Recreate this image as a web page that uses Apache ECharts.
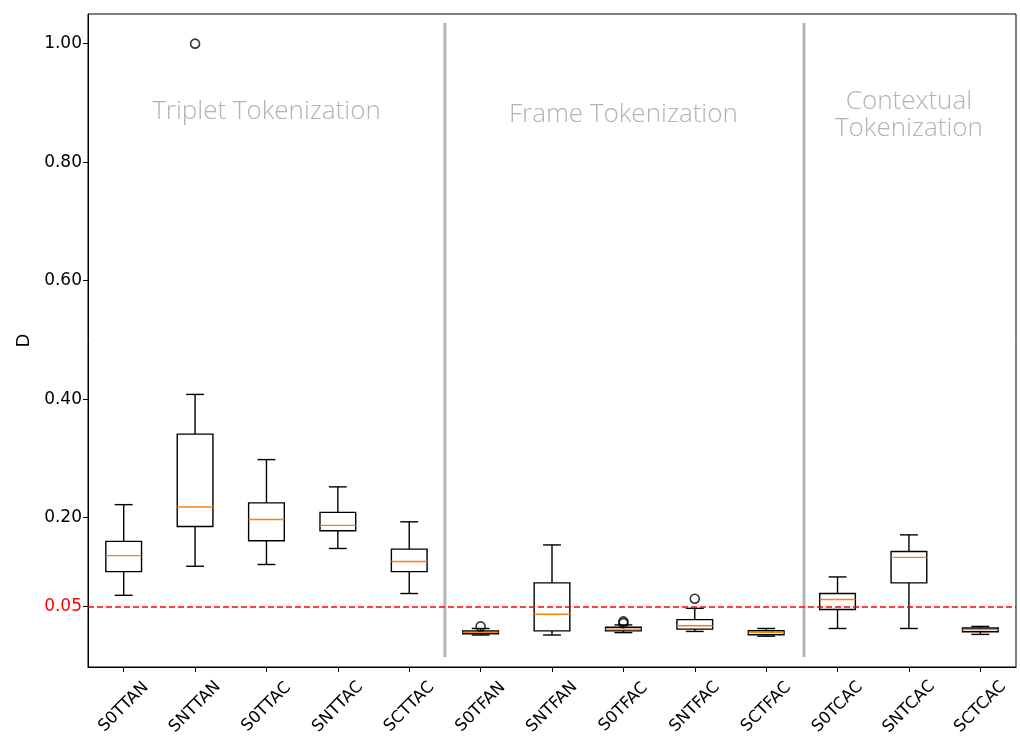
<!DOCTYPE html>
<html>
<head>
<meta charset="utf-8">
<script src="https://cdn.jsdelivr.net/npm/echarts@6/dist/echarts.min.js"></script>
<style>html,body{margin:0;padding:0;background:#fff}#c{width:1020px;height:736px}</style>
</head>
<body>
<div id="c"></div>
<script>
const categories = ['S0TTAN','SNTTAN','S0TTAC','SNTTAC','SCTTAC','S0TFAN','SNTFAN','S0TFAC','SNTFAC','SCTFAC','S0TCAC','SNTCAC','SCTCAC'];
const lowWhisker  = [0.069, 0.118, 0.121, 0.148, 0.072, 0.002, 0.002, 0.006, 0.008, 0.000, 0.013, 0.013, 0.003];
const q1          = [0.109, 0.185, 0.161, 0.178, 0.109, 0.004, 0.009, 0.009, 0.012, 0.0025, 0.045, 0.090, 0.0076];
const medians     = [0.136, 0.218, 0.197, 0.187, 0.126, 0.0064, 0.037, 0.012, 0.0177, 0.0064, 0.062, 0.133, 0.011];
const q3          = [0.160, 0.341, 0.225, 0.209, 0.147, 0.0088, 0.090, 0.015, 0.028, 0.0093, 0.072, 0.143, 0.0138];
const highWhisker = [0.222, 0.408, 0.298, 0.252, 0.193, 0.013, 0.154, 0.019, 0.047, 0.013, 0.100, 0.171, 0.0165];
const outliers = [[1, 1.0], [5, 0.0165], [7, 0.025], [7, 0.022], [8, 0.0633]];
const yTickValues = [0.05, 0.2, 0.4, 0.6, 0.8, 1.0];
const threshold = 0.05;
const groupLabels = [
  {cat: 2, y: 0.886, text: 'Triplet Tokenization'},
  {cat: 7, y: 0.881, text: 'Frame Tokenization'},
  {cat: 11, y: 0.880, text: 'Contextual\nTokenization'}
];
const separators = [4.5, 9.53];
const separatorRange = [-0.035, 1.035];

const boxData = categories.map((c, i) => [i, lowWhisker[i], q1[i], medians[i], q3[i], highWhisker[i]]);

const chart = echarts.init(document.getElementById('c'), null, {renderer: 'canvas'});
const lineW = 1.4;
chart.setOption({
  animation: false,
  grid: {left: 88, right: 4, top: 14, bottom: 69, containLabel: false, outerBoundsMode: 'none',
    show: true, borderColor: '#000', borderWidth: 1, backgroundColor: 'transparent'},
  xAxis: {
    type: 'category', data: categories, boundaryGap: true,
    axisLine: {show: true, onZero: false, lineStyle: {color: '#000', width: 1}},
    axisTick: {show: true, alignWithLabel: true, length: 5, lineStyle: {color: '#000'}},
    axisLabel: {rotate: 45, align: 'center', verticalAlign: 'middle', margin: 40, color: '#000', fontSize: 16.5, fontFamily: 'DejaVu Sans', interval: 0},
    splitLine: {show: false}
  },
  yAxis: {
    type: 'value', min: -0.052, max: 1.05,
    name: 'D', nameLocation: 'middle', nameGap: 52, nameRotate: 90,
    nameTextStyle: {color: '#000', fontSize: 18, fontFamily: 'DejaVu Sans'},
    axisLine: {show: true, lineStyle: {color: '#000', width: 1}},
    axisTick: {show: true, length: 5, customValues: yTickValues, lineStyle: {color: '#000'}},
    axisLabel: {customValues: yTickValues, margin: 6, fontSize: 17, fontFamily: 'DejaVu Sans',
      formatter: v => v.toFixed(2),
      color: (v) => (Math.abs(v - threshold) < 1e-9 ? '#ff0000' : '#000')},
    splitLine: {show: false}
  },
  series: [
    {
      type: 'custom', name: 'separators', silent: true, z: 1,
      data: separators.map(s => [s, separatorRange[0], separatorRange[1]]),
      renderItem: function(params, api) {
        const s = api.value(0);
        const i0 = Math.floor(s), f = s - i0;
        const a = api.coord([i0, api.value(1)]);
        const b = api.coord([i0 + 1, api.value(1)]);
        const top = api.coord([i0, api.value(2)]);
        const x = a[0] + f * (b[0] - a[0]);
        return {type: 'line', shape: {x1: x, y1: a[1], x2: x, y2: top[1]},
          style: {stroke: '#b3b3b3', lineWidth: 3}};
      }
    },
    {
      type: 'custom', name: 'boxes', z: 3,
      data: boxData,
      renderItem: function(params, api) {
        const idx = api.value(0);
        const pLow = api.coord([idx, api.value(1)]);
        const pQ1 = api.coord([idx, api.value(2)]);
        const pMed = api.coord([idx, api.value(3)]);
        const pQ3 = api.coord([idx, api.value(4)]);
        const pHigh = api.coord([idx, api.value(5)]);
        const band = api.size([1, 0])[0];
        const bw = band * 0.5, cw = band * 0.25;
        const x = pMed[0];
        const st = {stroke: '#000', lineWidth: lineW, fill: null};
        return {type: 'group', children: [
          {type: 'line', shape: {x1: x, y1: pQ3[1], x2: x, y2: pHigh[1]}, style: st},
          {type: 'line', shape: {x1: x, y1: pQ1[1], x2: x, y2: pLow[1]}, style: st},
          {type: 'line', shape: {x1: x - cw/2, y1: pHigh[1], x2: x + cw/2, y2: pHigh[1]}, style: st},
          {type: 'line', shape: {x1: x - cw/2, y1: pLow[1], x2: x + cw/2, y2: pLow[1]}, style: st},
          {type: 'rect', shape: {x: x - bw/2, y: pQ3[1], width: bw, height: pQ1[1] - pQ3[1]}, style: {stroke: '#000', lineWidth: lineW, fill: 'none'}},
          {type: 'line', shape: {x1: x - bw/2, y1: pMed[1], x2: x + bw/2, y2: pMed[1]}, style: {stroke: '#ff7f0e', lineWidth: lineW}}
        ]};
      }
    },
    {
      type: 'scatter', name: 'outliers', z: 4,
      data: outliers,
      symbol: 'circle', symbolSize: 9,
      itemStyle: {color: 'transparent', borderColor: '#000', borderWidth: 1.6}
    },
    {
      type: 'custom', name: 'labels', silent: true, z: 2,
      data: groupLabels.map(g => [g.cat, g.y]),
      renderItem: function(params, api) {
        const p = api.coord([api.value(0), api.value(1)]);
        return {type: 'text', x: p[0], y: p[1], style: {
          text: groupLabels[params.dataIndex].text, fill: '#b3b3b3', fontSize: 26, fontWeight: 300,
          fontFamily: 'Open Sans', align: 'center', verticalAlign: 'middle', lineHeight: 27}};
      }
    },
    {
      type: 'line', name: 'threshold', data: [], z: 5,
      markLine: {silent: true, symbol: 'none', label: {show: false},
        lineStyle: {color: '#ff0000', type: [6, 3], width: 1.6},
        data: [{yAxis: threshold}]}
    }
  ]
});
</script>
</body>
</html>
